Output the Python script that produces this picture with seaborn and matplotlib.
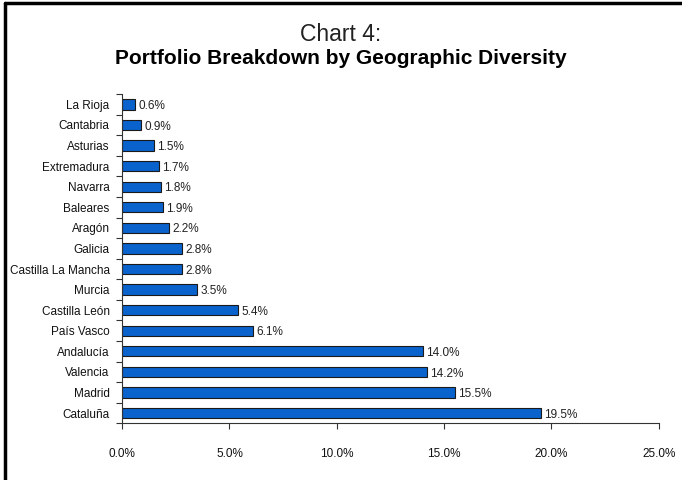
import matplotlib
matplotlib.use("Agg")
import matplotlib.pyplot as plt
import seaborn as sns
import pandas as pd
from matplotlib.lines import Line2D
from matplotlib.ticker import FuncFormatter

regions = ['La Rioja', 'Cantabria', 'Asturias', 'Extremadura', 'Navarra', 'Baleares',
           'Aragón', 'Galicia', 'Castilla La Mancha', 'Murcia', 'Castilla León',
           'País Vasco', 'Andalucía', 'Valencia', 'Madrid', 'Cataluña']
shares = [0.6, 0.9, 1.5, 1.7, 1.8, 1.9, 2.2, 2.8, 2.8, 3.5, 5.4, 6.1, 14.0, 14.2, 15.5, 19.5]

df = pd.DataFrame({'Region': regions, 'Share': shares})

sns.set_theme(style="white")
plt.rcParams['font.family'] = ['Liberation Sans', 'DejaVu Sans']

fig = plt.figure(figsize=(6.82, 4.80), dpi=100)
ax = fig.add_axes([0.179, 0.118, 0.787, 0.686])

sns.barplot(data=df, x='Share', y='Region', orient='h', color='#0a62cc',
            edgecolor='#1a1a1a', linewidth=0.8, width=0.5, saturation=1, ax=ax)

for i, v in enumerate(shares):
    ax.text(v + 0.15, i + 0.08, f'{v:.1f}%', va='center', ha='left', fontsize=8.5, color='#222222')

ax.set_xlim(0, 25)
ax.set_xticks([0, 5, 10, 15, 20, 25])
ax.xaxis.set_major_formatter(FuncFormatter(lambda x, p: f'{x:.1f}%'))
ax.set_ylim(len(regions) - 0.5, -0.5)
ax.set_xlabel('')
ax.set_ylabel('')

for s in ['top', 'right']:
    ax.spines[s].set_visible(False)
for s in ['left', 'bottom']:
    ax.spines[s].set_color('#333333')
    ax.spines[s].set_linewidth(0.8)

ax.set_yticks([i - 0.5 for i in range(len(regions) + 1)], minor=True)
ax.tick_params(axis='y', which='major', length=0, labelsize=8.5, pad=9, labelcolor='#111111')
ax.tick_params(axis='y', which='minor', length=4, width=0.8, color='#333333', direction='out', left=True)
ax.tick_params(axis='x', which='major', length=4, width=0.8, color='#333333', direction='out',
               bottom=True, labelsize=8.5, pad=14, labelcolor='#111111')

fig.text(0.5, 0.929, 'Chart 4:', ha='center', va='center', fontsize=16.5, color='#222222')
fig.text(0.5, 0.878, 'Portfolio Breakdown by Geographic Diversity', ha='center', va='center',
         fontsize=15, fontweight='bold', color='black')

# frame lines (top and left)
fig.add_artist(Line2D([0.007, 1.0], [0.993, 0.993], transform=fig.transFigure, color='black', linewidth=2.5))
fig.add_artist(Line2D([0.007, 0.007], [0.0, 0.993], transform=fig.transFigure, color='black', linewidth=2.5))

fig.savefig('out.png', dpi=100)
